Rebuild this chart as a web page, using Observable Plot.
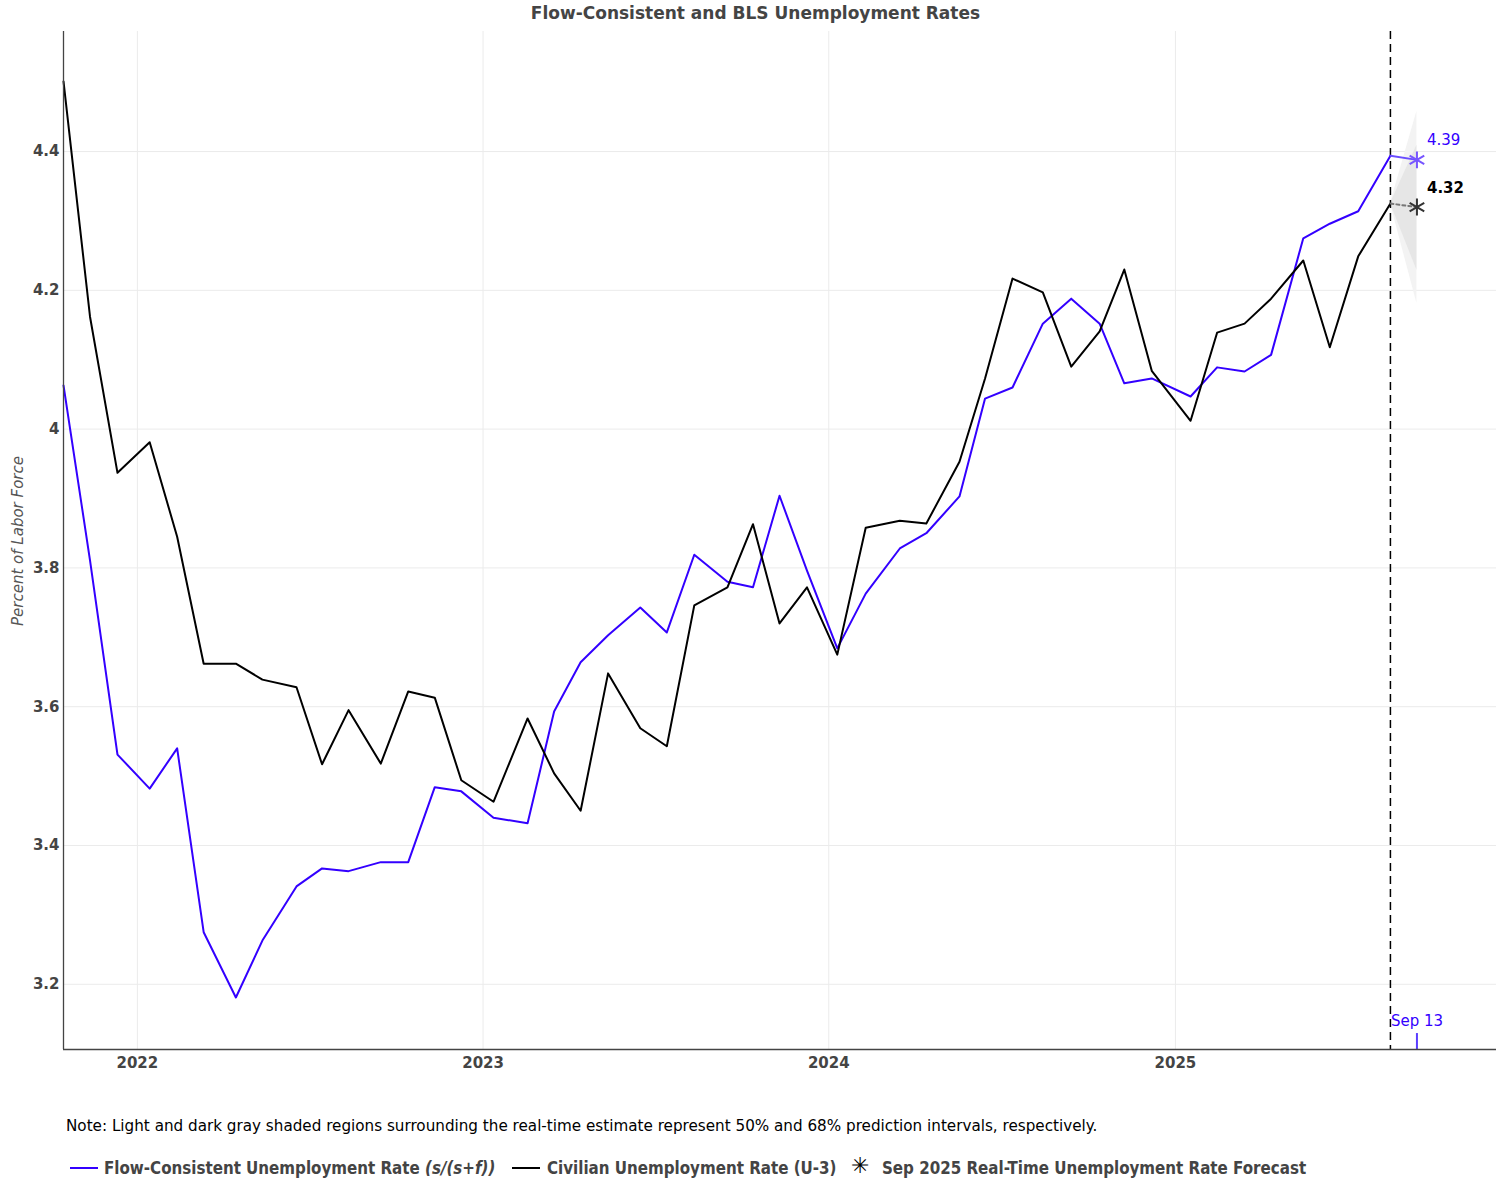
<!DOCTYPE html>
<html><head><meta charset="utf-8">
<script src="https://cdn.jsdelivr.net/npm/d3@7"></script>
<script src="https://cdn.jsdelivr.net/npm/@observablehq/plot@0.6"></script>
<style>
body{margin:0;background:#fff;font-family:"DejaVu Sans",Verdana,sans-serif;}
#wrap{position:relative;width:1502px;height:1186px;overflow:hidden;}
#title{position:absolute;top:3px;left:0;width:1511px;text-align:center;font-weight:bold;font-size:17px;color:#444;}
#chart{position:absolute;top:0;left:0;}
#ylab{position:absolute;left:18px;top:541px;transform:translate(-50%,-50%) rotate(-90deg);font-style:italic;font-size:15px;color:#555;white-space:nowrap;}
#note{position:absolute;left:66px;top:1117px;font-size:15.2px;color:#000;white-space:nowrap;}
.leg{position:absolute;top:1158px;font-family:"DejaVu Sans Condensed","DejaVu Sans",sans-serif;font-weight:bold;font-size:16.8px;color:#444;white-space:nowrap;}
.sw{position:absolute;top:1167px;height:2px;width:28px;}
</style></head><body><div id="wrap">
<div id="chart"></div>
<div id="title">Flow-Consistent and BLS Unemployment Rates</div>
<div id="ylab">Percent of Labor Force</div>
<div id="note">Note: Light and dark gray shaded regions surrounding the real-time estimate represent 50% and 68% prediction intervals, respectively.</div>
<div class="sw" style="left:70px;background:#3300ff"></div>
<div class="leg" style="left:104px">Flow-Consistent Unemployment Rate <i>(s/(s+f))</i></div>
<div class="sw" style="left:512px;background:#000"></div>
<div class="leg" style="left:547px">Civilian Unemployment Rate (U-3)</div>
<div class="leg" style="left:851px;font-family:'DejaVu Sans';font-size:22px;top:1153px;color:#000">✳</div>
<div class="leg" style="left:882px">Sep 2025 Real-Time Unemployment Rate Forecast</div>
</div>
<script>
// observation dates (one per month, as placed on the reference time axis)
const dates = ["2021-10-15","2021-11-12","2021-12-11","2022-01-14","2022-02-12","2022-03-12","2022-04-15","2022-05-13","2022-06-18","2022-07-15","2022-08-12","2022-09-15","2022-10-14","2022-11-11","2022-12-09","2023-01-12","2023-02-17","2023-03-17","2023-04-14","2023-05-13","2023-06-16","2023-07-14","2023-08-12","2023-09-16","2023-10-13","2023-11-10","2023-12-09","2024-01-10","2024-02-09","2024-03-16","2024-04-13","2024-05-18","2024-06-14","2024-07-13","2024-08-14","2024-09-13","2024-10-13","2024-11-08","2024-12-07","2025-01-17","2025-02-14","2025-03-15","2025-04-12","2025-05-16","2025-06-13","2025-07-13","2025-08-16"];
const u3 = [4.501,4.162,3.937,3.981,3.845,3.662,3.662,3.639,3.628,3.517,3.595,3.518,3.622,3.613,3.494,3.463,3.583,3.504,3.450,3.648,3.569,3.543,3.746,3.772,3.863,3.720,3.772,3.675,3.858,3.868,3.864,3.953,4.073,4.217,4.197,4.090,4.141,4.230,4.084,4.012,4.139,4.152,4.188,4.243,4.118,4.249,4.325];
const flow = [4.063,3.811,3.531,3.482,3.540,3.275,3.181,3.263,3.341,3.367,3.363,3.376,3.376,3.484,3.478,3.440,3.432,3.593,3.664,3.703,3.743,3.707,3.819,3.780,3.772,3.904,3.796,3.684,3.763,3.828,3.850,3.903,4.044,4.060,4.152,4.188,4.152,4.066,4.073,4.047,4.089,4.083,4.107,4.275,4.296,4.314,4.394];
const forecastDate = "2025-09-13";
const forecastFlow = 4.388;
const forecastU3 = 4.32;
const band50 = [4.181, 4.458];
const band68 = [4.229, 4.409];
const yTicks = [3.2,3.4,3.6,3.8,4.0,4.2,4.4];
const xTickYears = [2022,2023,2024,2025];
const yDomain = [3.106, 4.573];
const xDomain = ["2021-10-15","2025-12-06"];

const blue = "#3300ff";
const data = dates.map((d,i)=>({date:new Date(d), u3:u3[i], flow:flow[i]}));
const last = data[data.length-1];
const fDate = new Date(forecastDate);
const fanOuter = [{date:last.date, lo:last.u3, hi:last.u3},{date:fDate, lo:band50[0], hi:band50[1]}];
const fanInner = [{date:last.date, lo:last.u3, hi:last.u3},{date:fDate, lo:band68[0], hi:band68[1]}];
const fFlow = [{date:last.date, v:last.flow},{date:fDate, v:forecastFlow}];
const fU3 = [{date:last.date, v:last.u3},{date:fDate, v:forecastU3}];
const xTicks = xTickYears.map(y=>new Date(y+"-01-01"));

const plot = Plot.plot({
  width:1502, height:1100,
  marginTop:31, marginBottom:51, marginLeft:63, marginRight:6,
  style:{fontFamily:"'DejaVu Sans',Verdana,sans-serif", color:"#444", background:"transparent"},
  x:{type:"utc", domain:xDomain.map(d=>new Date(d))},
  y:{domain:yDomain},
  marks:[
    Plot.gridY(yTicks,{stroke:"#ebebeb", strokeOpacity:1}),
    Plot.gridX(xTicks,{stroke:"#ebebeb", strokeOpacity:1}),
    Plot.areaY(fanOuter,{x:"date", y1:"lo", y2:"hi", fill:"#f3f3f3"}),
    Plot.areaY(fanInner,{x:"date", y1:"lo", y2:"hi", fill:"#e6e6e6"}),
    Plot.ruleX([last.date],{stroke:"#000", strokeWidth:1.5, strokeDasharray:"8,5"}),
    Plot.line(data,{x:"date", y:"flow", stroke:blue, strokeWidth:2}),
    Plot.line(data,{x:"date", y:"u3", stroke:"#000", strokeWidth:2}),
    Plot.line(fFlow,{x:"date", y:"v", stroke:"#6a4dff", strokeWidth:2}),
    Plot.line(fU3,{x:"date", y:"v", stroke:"#777", strokeWidth:2, strokeDasharray:"3,3"}),
    Plot.dot([{date:fDate, v:forecastFlow}],{x:"date", y:"v", symbol:"asterisk", r:8, stroke:"#7755ff", strokeWidth:2}),
    Plot.dot([{date:fDate, v:forecastU3}],{x:"date", y:"v", symbol:"asterisk", r:8, stroke:"#333", strokeWidth:2}),
    Plot.text([{date:fDate, v:forecastFlow}],{x:"date", y:"v", text:d=>d.v.toFixed(2), dx:10, dy:-20, textAnchor:"start", fill:"#3300ff", fontSize:15}),
    Plot.text([{date:fDate, v:forecastU3}],{x:"date", y:"v", text:d=>d.v.toFixed(2), dx:10, dy:-19, textAnchor:"start", fill:"#000", fontSize:15, fontWeight:"bold"}),
    Plot.ruleX([fDate],{y1:yDomain[0], y2:yDomain[0]+0.023, stroke:"#5a3dff", strokeWidth:2}),
    Plot.text([fDate],{x:d=>d, frameAnchor:"bottom", dy:-24, text:()=>"Sep 13", fill:"#3300ff", fontSize:15}),
    Plot.ruleX([new Date(xDomain[0])],{stroke:"#444", strokeWidth:1.3}),
    Plot.ruleY([yDomain[0]],{stroke:"#444", strokeWidth:1.3}),
    Plot.axisY({ticks:yTicks, tickSize:0, tickPadding:4, tickFormat:d3.format("~g"), fontWeight:"bold", fontSize:15, label:null}),
    Plot.axisX({ticks:xTicks, tickSize:0, tickPadding:8, tickFormat:d3.utcFormat("%Y"), fontWeight:"bold", fontSize:15, label:null})
  ]
});
document.getElementById("chart").appendChild(plot);
</script>
</body></html>
